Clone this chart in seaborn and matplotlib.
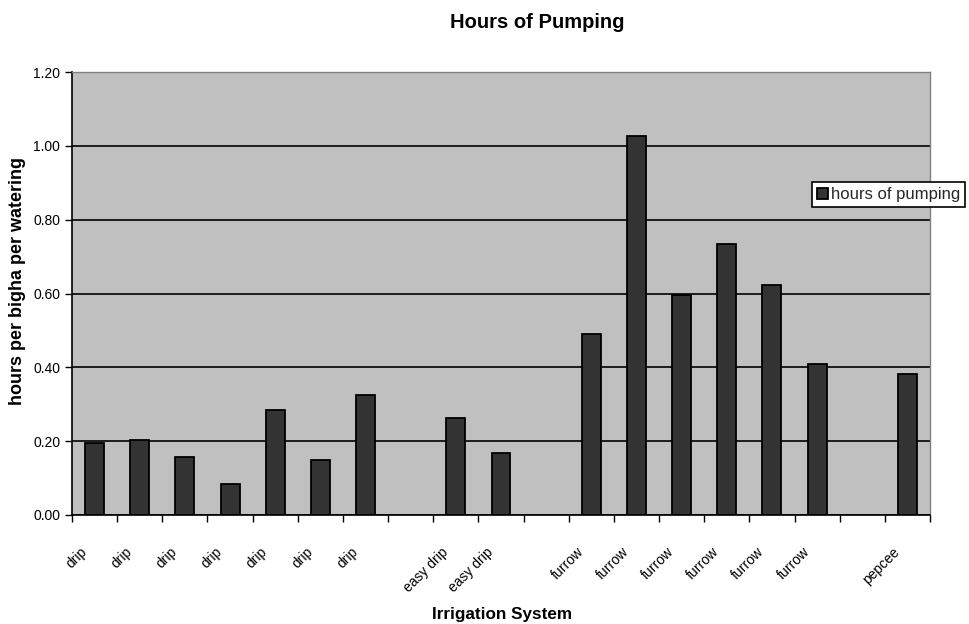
import numpy as np
import pandas as pd
import matplotlib
matplotlib.use("Agg")
import matplotlib.pyplot as plt
from matplotlib.ticker import FormatStrFormatter
from matplotlib.transforms import ScaledTranslation
import seaborn as sns

# Irrigation system for each slot on the category axis ("" = empty spacer slot)
systems = ["drip", "drip", "drip", "drip", "drip", "drip", "drip", "",
           "easy drip", "easy drip", "",
           "furrow", "furrow", "furrow", "furrow", "furrow", "furrow", "",
           "pepcee"]
# Hours of pumping per bigha per watering (None = spacer slot)
hours = [0.195, 0.204, 0.156, 0.085, 0.285, 0.150, 0.324, None,
         0.264, 0.168, None,
         0.491, 1.026, 0.595, 0.735, 0.622, 0.410, None,
         0.383]
y_ticks = [0.0, 0.2, 0.4, 0.6, 0.8, 1.0, 1.2]
series_name = "hours of pumping"

sns.set_theme(style="white")
plt.rcParams["font.family"] = ["Liberation Sans", "DejaVu Sans"]

W, H = 969, 624
fig = plt.figure(figsize=(W / 100, H / 100), dpi=100)
fig.patch.set_facecolor("white")
ax = fig.add_axes([72 / W, 109 / H, 858 / W, 443 / H])
ax.set_facecolor("#C0C0C0")

slots = list(range(len(systems)))
df = pd.DataFrame({"slot": slots, "system": systems, "hours": hours}).dropna()

sns.barplot(data=df, x="slot", y="hours", order=slots, color="#333333",
            saturation=1, edgecolor="black", linewidth=1.3, width=0.42,
            errorbar=None, label=series_name, ax=ax)

# value axis
ax.set_ylim(0, 1.2)
ax.set_yticks(y_ticks)
ax.yaxis.set_major_formatter(FormatStrFormatter("%.2f"))
ax.yaxis.grid(True, color="black", linewidth=1.2)
ax.xaxis.grid(False)
ax.set_axisbelow(True)
ax.tick_params(axis="y", left=True, length=5, width=1, color="black",
               direction="out", labelsize=10, pad=3.5, labelcolor="black")

# category axis: tick marks between categories, labels at the centres
ax.set_xlim(-0.5, len(systems) - 0.5)
ax.set_xticks(slots)
ax.set_xticklabels(systems, rotation=45, ha="right", va="center",
                   rotation_mode="anchor", fontsize=10, color="black")
ax.set_xticks(np.arange(-0.5, len(systems), 1.0), minor=True)
ax.tick_params(axis="x", which="major", bottom=True, length=0, pad=25)
ax.tick_params(axis="x", which="minor", bottom=True, length=5, width=1,
               color="black", direction="out")
shift = ScaledTranslation(-10 / 100, 0, fig.dpi_scale_trans)
for lab in ax.get_xticklabels():
    lab.set_transform(lab.get_transform() + shift)

for side in ("left", "bottom"):
    ax.spines[side].set_color("black")
    ax.spines[side].set_linewidth(1.2)
for side in ("top", "right"):
    ax.spines[side].set_color("#808080")
    ax.spines[side].set_linewidth(1.0)

ax.set_xlabel("")
ax.set_ylabel("")

fig.text(537 / W, 1 - 23 / H, "Hours of Pumping", ha="center", va="center",
         fontsize=14.5, fontweight="bold", color="black")
fig.text(502 / W, 1 - 614 / H, "Irrigation System", ha="center", va="center",
         fontsize=12.3, fontweight="bold", color="black")
fig.text(17.5 / W, 1 - 281 / H, "hours per bigha per watering", ha="center",
         va="center", rotation=90, fontsize=13, fontweight="bold", color="black")

handles, labels = ax.get_legend_handles_labels()
if ax.get_legend() is not None:
    ax.get_legend().remove()
leg = fig.legend(handles[:1], labels[:1], loc="center left",
                 bbox_to_anchor=(812 / W, 1 - 194.5 / H), frameon=True,
                 fancybox=False, edgecolor="black", facecolor="white",
                 framealpha=1, fontsize=12, handlelength=0.65,
                 handleheight=0.65, handletextpad=0.2, borderpad=0.3,
                 borderaxespad=0)
leg.get_frame().set_linewidth(1.2)

fig.savefig("out.png", dpi=100)
